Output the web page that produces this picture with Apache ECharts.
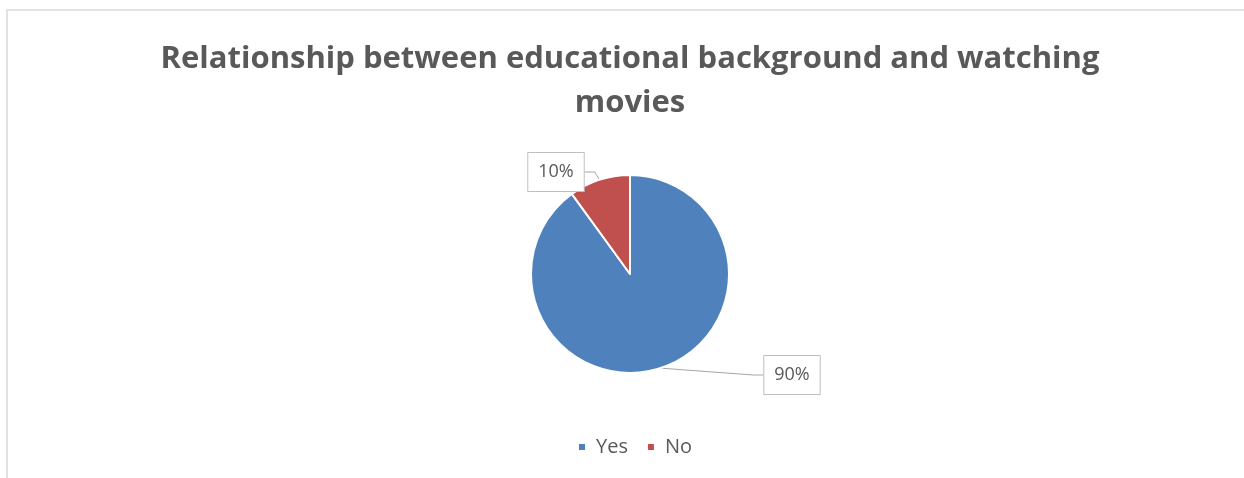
<!DOCTYPE html>
<html>
<head>
<meta charset="utf-8">
<script src="https://cdn.jsdelivr.net/npm/echarts@6/dist/echarts.min.js"></script>
<style>
  html, body { margin: 0; padding: 0; background: #ffffff; }
  #chart { width: 1244px; height: 478px; }
</style>
</head>
<body>
<div id="chart"></div>
<script>
// Survey answers: share of respondents who watch movies
const categories = ['Yes', 'No'];
const shares = [90, 10];
const sliceColors = ['#4F81BD', '#C0504D'];
const titleLines = ['Relationship between educational background and watching', 'movies'];

const FONT = '"Open Sans", "Noto Sans", sans-serif';
const TEXT = '#595959';

const chart = echarts.init(document.getElementById('chart'), null, { renderer: 'canvas' });

// Callout placement for each slice label (centre of the box)
const calloutPos = [
  { x: 792, y: 375 },
  { x: 556, y: 172 }
];

chart.setOption({
  backgroundColor: '#ffffff',
  animation: false,
  graphic: [
    {
      type: 'rect',
      shape: { x: 7, y: 10, width: 1260, height: 500 },
      style: { fill: 'none', stroke: '#d9d9d9', lineWidth: 1.5 },
      silent: true
    }
  ],
  title: {
    text: titleLines.join('\n'),
    // centred on the pie's horizontal centre rather than the canvas centre
    left: 625,
    textAlign: 'center',
    top: 32,
    textStyle: {
      fontFamily: FONT,
      fontWeight: 'bold',
      fontSize: 31,
      color: TEXT,
      lineHeight: 44
    }
  },
  legend: {
    top: 432,
    left: 572,
    icon: 'rect',
    itemWidth: 8,
    itemHeight: 8,
    itemGap: 18,
    textStyle: { fontFamily: FONT, fontSize: 20, color: TEXT, padding: [0, 0, 0, 5] },
    data: categories
  },
  series: [
    {
      type: 'pie',
      center: [630, 274],
      radius: 99,
      startAngle: 90,
      clockwise: true,
      avoidLabelOverlap: false,
      itemStyle: { borderColor: '#ffffff', borderWidth: 2 },
      label: {
        show: true,
        formatter: '{c}%',
        fontFamily: FONT,
        fontSize: 18,
        color: TEXT,
        backgroundColor: '#ffffff',
        borderColor: '#bfbfbf',
        borderWidth: 1,
        padding: [10, 10, 10, 10]
      },
      labelLine: {
        show: true,
        length: 10,
        length2: 10,
        lineStyle: { color: '#a6a6a6', width: 1 }
      },
      labelLayout: function (params) {
        const p = calloutPos[params.dataIndex];
        return { x: p.x, y: p.y, align: 'center', verticalAlign: 'middle' };
      },
      emphasis: { disabled: true },
      data: categories.map((name, i) => ({
        name: name,
        value: shares[i],
        itemStyle: { color: sliceColors[i] }
      }))
    }
  ]
});
</script>
</body>
</html>
